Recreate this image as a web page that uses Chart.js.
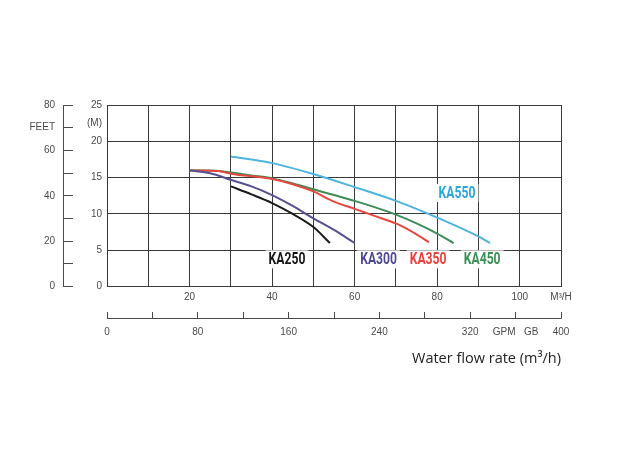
<!DOCTYPE html>
<html>
<head>
<meta charset="utf-8">
<script src="https://cdn.jsdelivr.net/npm/chart.js@4/dist/chart.umd.min.js"></script>
<style>
  html, body { margin: 0; padding: 0; background: #fff; }
  #wrap { width: 620px; height: 460px; }
</style>
</head>
<body>
<div id="wrap"><canvas id="pump-curve" width="620" height="460"></canvas></div>
<script>
// pump curves: flow (m3/h) vs head (m)
var models = ["KA250", "KA300", "KA350", "KA450", "KA550"];
var lineColors = ["#1b1b1b", "#55508f", "#e5483f", "#3f8c57", "#4db3df"];
var labelColors = ["#151515", "#4b4a92", "#e8413a", "#3a8f55", "#2aa6dc"];

var ka250Flow = [30, 35, 40, 45, 50, 54];
var ka250Head = [13.8, 12.7, 11.5, 10.0, 8.2, 6.0];

var ka300Flow = [20, 25, 30, 35, 40, 45, 50, 55, 60];
var ka300Head = [16.0, 15.6, 14.7, 13.8, 12.6, 11.1, 9.4, 7.8, 6.0];

var ka350Flow = [20, 27, 30, 40, 45, 50, 55, 60, 65, 70, 75, 78];
var ka350Head = [16.0, 15.9, 15.55, 14.8, 14.1, 13.1, 11.7, 10.7, 9.7, 8.7, 7.2, 6.1];

var ka450Flow = [20, 25, 30, 35, 40, 45, 50, 55, 60, 65, 70, 75, 80, 84];
var ka450Head = [16.0, 16.0, 15.7, 15.3, 14.9, 14.2, 13.4, 12.6, 11.8, 10.9, 9.9, 8.7, 7.3, 6.0];

var ka550Flow = [30, 40, 50, 60, 70, 80, 90, 92.8];
var ka550Head = [17.9, 17.0, 15.5, 13.7, 11.8, 9.5, 6.9, 6.0];

var flows = [ka250Flow, ka300Flow, ka350Flow, ka450Flow, ka550Flow];
var heads = [ka250Head, ka300Head, ka350Head, ka450Head, ka550Head];

// axis tick labels
var flowLabels = [20, 40, 60, 80, 100];
var gpmLabels = [0, 80, 160, 240, 320, 400];
var feetLabels = [0, 20, 40, 60, 80];
var meterLabels = [0, 5, 10, 15, 20, 25];

var gridColor = "#3a3a3a";
var tickColor = "#4a4a4a";
var tickFont = { family: "'Liberation Sans', Arial, sans-serif", size: 10 };

var datasets = models.map(function (name, i) {
    return {
        label: name,
        data: flows[i].map(function (f, j) { return { x: f, y: heads[i][j] }; }),
        borderColor: lineColors[i],
        borderWidth: 2,
        pointRadius: 0,
        cubicInterpolationMode: "monotone",
        fill: false
    };
});

// where the model names sit (in data units)
var namePos = {
    KA250: [43.6, 3.75],
    KA300: [65.8, 3.75],
    KA350: [77.8, 3.75],
    KA450: [90.9, 3.75],
    KA550: [84.8, 12.9]
};

var extras = {
    id: "extras",
    afterDraw: function (chart) {
        var c = chart.ctx;
        var feet = chart.scales.yFeet;
        var gpm = chart.scales.x2;
        c.save();
        c.strokeStyle = tickColor;
        c.lineWidth = 1;
        // feet axis line (ticks point inward)
        var fx = Math.round(feet.right - 10) + 0.5;
        c.beginPath();
        c.moveTo(fx, feet.getPixelForValue(80));
        c.lineTo(fx, feet.getPixelForValue(0));
        c.stroke();
        // gpm axis line (ticks point up)
        var gy = Math.round(gpm.top + 7) - 0.5;
        c.beginPath();
        c.moveTo(gpm.getPixelForValue(0), gy);
        c.lineTo(gpm.getPixelForValue(400), gy);
        c.stroke();

        // model names, squeezed to look condensed
        var x = chart.scales.x, y = chart.scales.y;
        c.font = "bold 16px Roboto, 'Liberation Sans', sans-serif";
        c.textAlign = "center";
        c.textBaseline = "middle";
        models.forEach(function (name, i) {
            var px = x.getPixelForValue(namePos[name][0]);
            var py = y.getPixelForValue(namePos[name][1]);
            var w = c.measureText(name).width * 0.76;
            c.fillStyle = "#fff";
            c.fillRect(px - w / 2 - 3, py - 9, w + 6, 18);
            c.save();
            c.translate(px, py);
            c.scale(0.76, 1);
            c.fillStyle = labelColors[i];
            c.fillText(name, 0, 1);
            c.restore();
        });
        c.restore();
    }
};

var ctx = document.getElementById("pump-curve").getContext("2d");
var pumpChart = new Chart(ctx, {
    type: "line",
    data: { datasets: datasets },
    plugins: [extras],
    options: {
        responsive: false,
        animation: false,
        layout: { padding: { top: 105, left: 30, right: 59, bottom: 88 } },
        plugins: { legend: { display: false }, tooltip: { enabled: false } },
        scales: {
            x: {
                type: "linear", position: "bottom", weight: 0,
                min: 0, max: 110,
                border: { display: true, color: gridColor },
                grid: { color: gridColor, drawTicks: false },
                ticks: {
                    stepSize: 10, autoSkip: false, maxRotation: 0, padding: 5,
                    color: tickColor, font: tickFont,
                    callback: function (v) {
                        if (v === 110) return "M\u00b3/H";
                        return flowLabels.indexOf(v) >= 0 ? String(v) : "";
                    }
                },
                afterFit: function (s) { s.height = 25; }
            },
            x2: {
                type: "linear", position: "bottom", weight: 1,
                min: 0, max: 400,
                border: { display: false },
                grid: { drawOnChartArea: false, color: tickColor, tickLength: 7 },
                ticks: {
                    stepSize: 40, autoSkip: false, maxRotation: 0, padding: 8,
                    color: tickColor, font: tickFont,
                    callback: function (v) {
                        if (v === 360) return "GPM   GB";
                        return gpmLabels.indexOf(v) >= 0 ? String(v) : "";
                    }
                },
                title: {
                    display: true, align: "end",
                    text: "Water flow rate (m\u00b3/h)",
                    color: "#222",
                    font: { family: "'Open Sans', sans-serif", size: 14.5 },
                    padding: { top: 4 }
                }
            },
            y: {
                type: "linear", position: "left", weight: 0,
                min: 0, max: 25,
                border: { display: true, color: gridColor },
                grid: {
                    drawTicks: false,
                    color: function (c) { return c.tick && c.tick.value % 5 === 0 ? gridColor : "rgba(0,0,0,0)"; }
                },
                ticks: {
                    stepSize: 2.5, autoSkip: false, padding: 5,
                    color: tickColor, font: tickFont,
                    callback: function (v) {
                        if (v === 22.5) return "(M)";
                        return meterLabels.indexOf(v) >= 0 ? String(v) : "";
                    }
                },
                afterFit: function (s) { s.width = 34; }
            },
            yFeet: {
                type: "linear", position: "left", weight: 1,
                min: 0, max: 80,
                border: { display: false },
                grid: { drawOnChartArea: false, color: tickColor, tickLength: 10 },
                ticks: {
                    stepSize: 10, autoSkip: false, padding: 8,
                    color: tickColor, font: tickFont,
                    callback: function (v) {
                        if (v === 70) return "FEET";
                        return feetLabels.indexOf(v) >= 0 ? String(v) : "";
                    }
                },
                afterFit: function (s) { s.width = 43; }
            }
        }
    }
});
</script>
</body>
</html>
